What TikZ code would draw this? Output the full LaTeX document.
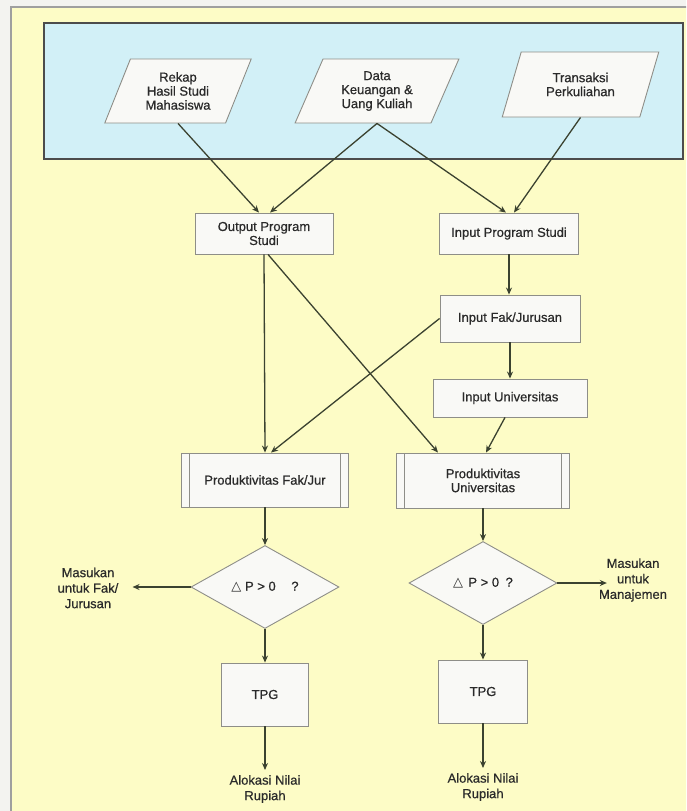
\documentclass[tikz,border=0pt]{standalone}
\usepackage{fontspec}
\setmainfont{Liberation Sans}[UprightFeatures={FakeBold=0.6}]
\newfontfamily\symfont{DejaVu Sans}
\usetikzlibrary{shapes.geometric,arrows.meta}

\definecolor{paper}{HTML}{FDFCC6}
\definecolor{sky}{HTML}{D2F0F7}
\definecolor{boxfill}{HTML}{F9F9F6}
\definecolor{edge}{HTML}{8E8E88}
\definecolor{wire}{HTML}{3B4230}
\definecolor{ink}{HTML}{2A2A2A}
\definecolor{margin}{HTML}{F3F3F0}

\begin{document}
\begin{tikzpicture}[x=1pt,y=-1pt,
  every node/.style={font=\fontsize{13}{14}\selectfont, text=ink, align=center},
  box/.style={draw=edge, fill=boxfill, line width=0.9pt, inner sep=0pt},
  datain/.style={trapezium, trapezium left angle=65, trapezium right angle=115,
    trapezium stretches=true, draw=edge, fill=boxfill, line width=0.9pt, inner sep=0pt},
  predef/.style={box, path picture={
    \draw[draw=edge, line width=0.9pt]
      ([xshift=8pt]path picture bounding box.north west) -- ([xshift=8pt]path picture bounding box.south west)
      ([xshift=-8pt]path picture bounding box.north east) -- ([xshift=-8pt]path picture bounding box.south east);}},
  decide/.style={diamond, aspect=1.8, draw=edge, fill=boxfill, line width=0.9pt, inner sep=0pt,
    minimum width=148pt, minimum height=83pt},
  note/.style={inner sep=0pt, font=\fontsize{13}{15.5}\selectfont},
  flow/.style={draw=wire, line width=1.3pt, -{Stealth[length=7pt,width=6pt]}}
]
\useasboundingbox (0,0) rectangle (686,811);
\clip (0,0) rectangle (686,811);

% panels
\fill[margin] (0,0) rectangle (686,811);
\draw[draw=gray!75, line width=1.6pt, fill=paper] (11,7) rectangle (700,830);
\draw[draw=black!70, line width=1.4pt, fill=sky] (44,23) rectangle (683,159);

% data sources
\node[datain, minimum width=148pt, minimum height=64pt] (rekap) at (178,91) {Rekap\\Hasil Studi\\Mahasiswa};
\node[datain, minimum width=164pt, minimum height=64pt] (data) at (377,91) {Data\\Keuangan \&\\Uang Kuliah};
\node[datain, minimum width=157pt, minimum height=65pt] (trans) at (580.5,84.5) {Transaksi\\Perkuliahan};

% process boxes
\node[box, minimum width=138pt, minimum height=41pt] (outp) at (264,233.5) {Output Program\\Studi};
\node[box, minimum width=139pt, minimum height=41pt] (inprog) at (509,233.5) {Input Program Studi};
\node[box, minimum width=140pt, minimum height=47pt] (infak) at (510,318.5) {Input Fak/Jurusan};
\node[box, minimum width=154pt, minimum height=38pt] (inuniv) at (510,398) {Input Universitas};

\node[predef, minimum width=167pt, minimum height=54pt] (prodfak) at (265,480) {Produktivitas Fak/Jur};
\node[predef, minimum width=173pt, minimum height=55pt] (produniv) at (483,480.5) {Produktivitas\\Universitas};

\node[decide] (qfak) at (265,587) {{\symfont △} P > 0\hspace{1.2em}?};
\node[decide] (quniv) at (483,583) {{\symfont △}\hspace{0.4em}P > 0\hspace{0.5em}?};

\node[box, minimum width=87pt, minimum height=63pt] (tpgfak) at (265,694.5) {TPG};
\node[box, minimum width=89pt, minimum height=63pt] (tpguniv) at (483,691.5) {TPG};

% outputs
\node[note, anchor=north] (alofak) at (265,775) {Alokasi Nilai\\Rupiah};
\node[note, anchor=north] (alouniv) at (483,773) {Alokasi Nilai\\Rupiah};
\node[note] (mfak) at (88,588) {Masukan\\untuk Fak/\\Jurusan};
\node[note] (mman) at (633,580) {Masukan\\untuk\\Manajemen};

% connectors
\draw[flow] (rekap.south) -- ([xshift=-5pt]outp.north);
\draw[flow] (data.south) -- ([xshift=6pt]outp.north);
\draw[flow] (data.south) -- ([xshift=-3pt]inprog.north);
\draw[flow] (trans.south) -- ([xshift=5pt]inprog.north);

\draw[flow] (inprog.south) -- (inprog.south |- infak.north);
\draw[flow] (infak.south) -- (infak.south |- inuniv.north);

\draw[flow] (outp.south) -- (prodfak.north);
\draw[flow] ([xshift=4pt]outp.south) -- ([xshift=-45pt]produniv.north);
\draw[flow] (infak.west) -- ([xshift=6pt]prodfak.north);
\draw[flow] ([xshift=-5pt]inuniv.south) -- ([xshift=3pt]produniv.north);

\draw[flow] (prodfak.south) -- (qfak.north);
\draw[flow] (produniv.south) -- (quniv.north);
\draw[flow] (qfak.south) -- (tpgfak.north);
\draw[flow] (quniv.south) -- (tpguniv.north);
\draw[flow] (tpgfak.south) -- ([yshift=5pt]alofak.north);
\draw[flow] (tpguniv.south) -- ([yshift=5pt]alouniv.north);

\draw[flow] (qfak.west) -- ([xshift=14pt]mfak.east |- qfak.west);
\draw[flow] (quniv.east) -- ([xshift=8pt]mman.west |- quniv.east);
\end{tikzpicture}
\end{document}
